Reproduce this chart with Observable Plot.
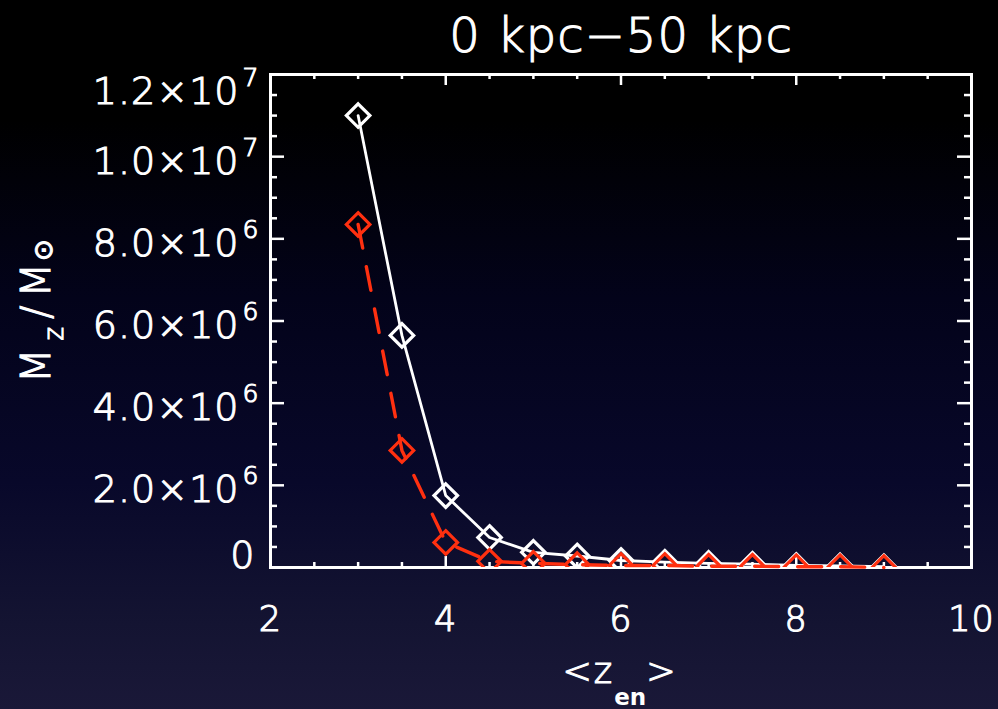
<!DOCTYPE html>
<html><head><meta charset="utf-8">
<script src="https://cdn.jsdelivr.net/npm/d3@7"></script>
<script src="https://cdn.jsdelivr.net/npm/@observablehq/plot@0.6"></script>
<style>
html,body{margin:0;padding:0;width:998px;height:709px;overflow:hidden;}
body{background:linear-gradient(to bottom,#000 0%,#000 17%,#03031a 42%,#08082a 68%,#141432 88%,#1a1838 100%);}
#chart svg{display:block;}
</style></head><body><div id="chart"></div>
<script>
// ---- data ----
const zen = [3, 3.5, 4, 4.5, 5, 5.5, 6, 6.5, 7, 7.5, 8, 8.5, 9];
const mzWhite = [11.0e6, 5.65e6, 1.75e6, 0.73e6, 0.37e6, 0.28e6, 0.17e6, 0.13e6, 0.10e6, 0.08e6, 0.05e6, 0.04e6, 0.02e6];
const mzRed = [8.35e6, 2.85e6, 0.61e6, 0.15e6, 0.10e6, 0.07e6, 0.05e6, 0.05e6, 0.03e6, 0.03e6, 0.02e6, 0.02e6, 0.0];
const xLabelValues = [2, 4, 6, 8, 10];
const xMajorInner = [4, 6, 8];
const xMinor = [2.5, 3, 3.5, 4.5, 5, 5.5, 6.5, 7, 7.5, 8.5, 9, 9.5];
const yTickValues = [0, 2e6, 4e6, 6e6, 8e6, 1e7, 1.2e7];
const yMantissa = ["0", "2.0", "4.0", "6.0", "8.0", "1.0", "1.2"];
const yExponent = ["", "6", "6", "6", "6", "7", "7"];
const yMajorInner = [2e6, 4e6, 6e6, 8e6, 1e7];
const yMinor = [0.5e6, 1e6, 1.5e6, 2.5e6, 3e6, 3.5e6, 4.5e6, 5e6, 5.5e6, 6.5e6, 7e6, 7.5e6, 8.5e6, 9e6, 9.5e6, 10.5e6, 11e6, 11.5e6];
const titleText = "0 kpc\u221250 kpc";

const whiteRows = zen.map((z, i) => ({z, m: mzWhite[i]}));
const redRows = zen.map((z, i) => ({z, m: mzRed[i]}));

const FONT = "DejaVu Sans";
const FW = 200;
const red = "#ff3010";
const W = "white";

const midIdx = [1, 2, 3, 4, 5];
const topIdx = [6];

const chart = Plot.plot({
  width: 998, height: 709,
  marginLeft: 270, marginRight: 27, marginTop: 74, marginBottom: 142,
  style: {background: "transparent", color: "white", fontFamily: FONT, fontWeight: FW},
  x: {domain: [2, 10], axis: null},
  y: {domain: [0, 1.2e7], axis: null},
  marks: [
    Plot.frame({stroke: W, strokeWidth: 3}),
    Plot.ruleX(xMinor, {x: d => d, y1: 0, y2: 0, insetTop: -5, stroke: W, strokeWidth: 2.5}),
    Plot.ruleX(xMajorInner, {x: d => d, y1: 0, y2: 0, insetTop: -11, stroke: W, strokeWidth: 2.5}),
    Plot.ruleX(xMinor, {x: d => d, y1: 1.2e7, y2: 1.2e7, insetBottom: -5, stroke: W, strokeWidth: 2.5}),
    Plot.ruleX(xMajorInner, {x: d => d, y1: 1.2e7, y2: 1.2e7, insetBottom: -11, stroke: W, strokeWidth: 2.5}),
    Plot.ruleY(yMinor, {y: d => d, x1: 2, x2: 2, insetRight: -7, stroke: W, strokeWidth: 2.5}),
    Plot.ruleY(yMajorInner, {y: d => d, x1: 2, x2: 2, insetRight: -14, stroke: W, strokeWidth: 2.5}),
    Plot.ruleY(yMinor, {y: d => d, x1: 10, x2: 10, insetLeft: -7, stroke: W, strokeWidth: 2.5}),
    Plot.ruleY(yMajorInner, {y: d => d, x1: 10, x2: 10, insetLeft: -14, stroke: W, strokeWidth: 2.5}),
    Plot.line(whiteRows, {x: "z", y: "m", stroke: W, strokeWidth: 2.8}),
    Plot.dot(whiteRows, {x: "z", y: "m", symbol: "diamond2", r: 10.6, stroke: W, strokeWidth: 3.2, fill: "none", clip: true}),
    Plot.line(redRows, {x: "z", y: "m", stroke: red, strokeWidth: 3.4, strokeDasharray: "24,19"}),
    Plot.dot(redRows, {x: "z", y: "m", symbol: "diamond2", r: 10.6, stroke: red, strokeWidth: 3.2, fill: "none", clip: true}),
    Plot.text(xLabelValues, {x: d => d, frameAnchor: "bottom", lineAnchor: "bottom", dy: 63, text: d => String(d), fill: W, fontSize: 35}),
    Plot.text(midIdx, {y: i => yTickValues[i], frameAnchor: "left", textAnchor: "end", lineAnchor: "bottom", dx: -31, dy: 17, text: i => yMantissa[i] + "\u00d710", fill: W, fontSize: 38}),
    Plot.text(midIdx, {y: i => yTickValues[i], frameAnchor: "left", textAnchor: "end", lineAnchor: "bottom", dx: -11, dy: -1, text: i => yExponent[i], fill: W, fontSize: 25}),
    Plot.text(topIdx, {y: i => yTickValues[i], frameAnchor: "left", textAnchor: "end", lineAnchor: "bottom", dx: -31, dy: 29, text: i => yMantissa[i] + "\u00d710", fill: W, fontSize: 38}),
    Plot.text(topIdx, {y: i => yTickValues[i], frameAnchor: "left", textAnchor: "end", lineAnchor: "bottom", dx: -11, dy: 11, text: i => yExponent[i], fill: W, fontSize: 25}),
    Plot.text([0], {y: i => yTickValues[i], frameAnchor: "left", textAnchor: "end", lineAnchor: "bottom", dx: -15, dy: 0, text: i => yMantissa[i], fill: W, fontSize: 38}),
    Plot.text([titleText], {frameAnchor: "top", lineAnchor: "bottom", dy: -23, text: d => d, fill: W, fontSize: 48})
  ]
});

const svg = d3.select(chart);
svg.selectAll("text").style("letter-spacing", "1px");
const xl = svg.append("text").attr("x", 620).attr("y", 683).attr("text-anchor", "middle")
  .attr("fill", W).attr("font-family", FONT).attr("font-weight", FW).attr("font-size", 35).style("letter-spacing", "2px");
xl.append("tspan").text("<z");
const en = xl.append("tspan").attr("dy", 22).attr("font-size", 23).attr("font-weight", "bold").style("letter-spacing", "0px").text("en");
xl.append("tspan").attr("dy", -22).text(">");
const yl = svg.append("text").attr("transform", "translate(50,307) rotate(-90)").attr("text-anchor", "middle")
  .attr("fill", W).attr("font-family", FONT).attr("font-weight", FW).attr("font-size", 40).style("letter-spacing", "8px");
yl.append("tspan").text("M");
yl.append("tspan").attr("dy", 13).attr("font-size", 26).text("z");
yl.append("tspan").attr("dy", -13).text("/M");
yl.append("tspan").attr("dy", 2).attr("dx", -6).attr("font-size", 26).text("\u2299");
// thicken the extra-light glyph strokes a little
svg.selectAll("text").attr("stroke", W).attr("stroke-width", 1.1);
en.attr("stroke", "none");

document.getElementById("chart").appendChild(chart);
</script>
</body></html>
